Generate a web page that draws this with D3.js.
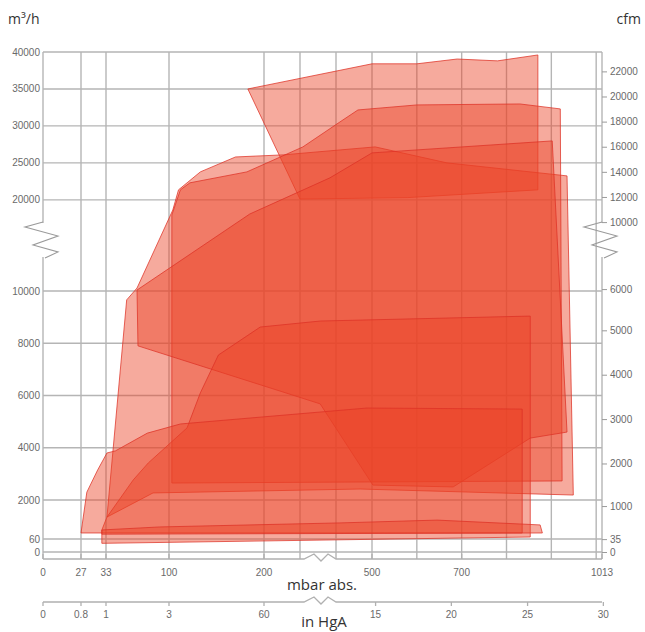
<!DOCTYPE html>
<html><head><meta charset="utf-8">
<script src="https://cdn.jsdelivr.net/npm/d3@7"></script>
<style>
html,body{margin:0;padding:0;background:#fff;}
svg{display:block;}
</style></head>
<body>
<svg id="chart" width="645" height="632"></svg>
<script>
// Pressure axis: mbar abs. ticks, grid and the matching inHgA labels
const mbarTicks = [0, 27, 33, 100, 200, 500, 700, 1013];
const mbarGrid = [27, 33, 100, 200, 300, 400, 500, 600, 700, 800, 900, 1000];
const hgLabels = ["0", "0.8", "1", "3", "60", "15", "20", "25", "30"];
const hgAtMbar = [0, 27, 33, 100, 200, 508, 677, 847, 1016];

// Flow axes: m³/h on the left, cfm on the right
const flowTicks = [0, 60, 2000, 4000, 6000, 8000, 10000, 20000, 25000, 30000, 35000, 40000];
const cfmTicks = [0, 35, 1000, 2000, 3000, 4000, 5000, 6000, 10000, 12000, 14000, 16000, 18000, 20000, 22000];
const CFM_TO_M3H = 1.699;

// Operating ranges as [pressure mbar, flow m³/h] outlines
const rangeA = [[183,35000],[500,38400],[600,38400],[690,39050],[780,38800],[870,39600],[870,21350],[580,20300],[300,20100]];
const rangeE = [[34,1150],[55,9660],[66,10300],[104,18620],[110,21350],[133,23780],[170,25800],[253,26080],[507,27160],[667,25000],[935,23240],[949,2190],[467,2420],[83,2270]];
const rangeB = [[411,30540],[461,32160],[600,32840],[830,32970],[920,32300],[924,2730],[103,2650],[103,17950],[112,21350],[122,22300],[182,23780],[308,27160]];
const rangeC = [[66,10100],[185,18080],[383,22970],[500,26350],[902,27970],[935,4600],[853,4370],[681,2500],[502,2570],[356,5680],[67,7900]];
const rangeF = [[32,40],[32,510],[34,1150],[62,2770],[78,3420],[119,4760],[133,6100],[152,7550],[196,8620],[356,8850],[853,9040],[853,160]];
const rangeG = [[27,360],[28.4,2300],[31,3150],[34,3800],[43,3880],[77,4560],[112,4910],[486,5520],[835,5480],[835,360]];
const rangeT = [[32,510],[90,660],[411,860],[645,1000],[875,760],[880,360],[32,300]];
const ranges = [rangeA, rangeE, rangeB, rangeC, rangeF, rangeG, rangeT];

(function draw() {
  const svg = d3.select("#chart");

  // Broken (piecewise) scales
  const x = d3.scaleLinear()
    .domain([0, 27, 33, 100, 200, 500, 1013])
    .range([43, 81, 106, 169, 264, 372, 602]);
  const y = d3.scaleLinear()
    .domain([0, 60, 2000, 10000, 17000, 40000])
    .range([552, 539, 500, 291, 222, 52]);

  const xL = x(0), xR = x(1013), yT = y(40000), yB = y(0);
  const axis1Y = yB + 7, axis2Y = yB + 50;
  const gridColor = "#b5b5b5";
  const tickFont = "'Liberation Sans', Arial, sans-serif";
  const tickColor = "#6a6a6a";

  // Grid
  const grid = svg.append("g").attr("stroke", gridColor).attr("stroke-width", 1.4);
  grid.selectAll("line.v").data(mbarGrid).join("line").attr("class", "v")
    .attr("x1", d => x(d)).attr("x2", d => x(d))
    .attr("y1", yT).attr("y2", axis1Y);
  grid.selectAll("line.h").data(flowTicks).join("line").attr("class", "h")
    .attr("x1", xL).attr("x2", xR)
    .attr("y1", d => y(d)).attr("y2", d => y(d));

  // Vertical axis lines with a gap at the break
  const breakTop = y(17000), breakBot = breakTop + 36;
  [xL, xR].forEach(px => {
    svg.append("line").attr("x1", px).attr("x2", px).attr("y1", yT).attr("y2", breakTop + 1)
      .attr("stroke", gridColor).attr("stroke-width", 1.4);
    svg.append("line").attr("x1", px).attr("x2", px).attr("y1", breakBot - 1).attr("y2", axis1Y)
      .attr("stroke", gridColor).attr("stroke-width", 1.4);
  });

  // Break markers on the flow axes
  const zig = (cx, cy) => {
    const pts = [[0,0],[-18,5],[15,14],[-10,23],[15,30],[2,36]];
    return d3.line()(pts.map(p => [cx + p[0], cy + p[1]]));
  };
  [xL, xR].forEach(px => {
    svg.append("path").attr("d", zig(px, breakTop))
      .attr("fill", "none").attr("stroke", "#9a9a9a").attr("stroke-width", 1.1);
  });

  // Operating ranges
  const outline = d3.line().x(d => x(d[0])).y(d => y(d[1]));
  svg.append("g").selectAll("path").data(ranges).join("path")
    .attr("d", d => outline(d) + "Z")
    .attr("fill", "rgb(236,66,38)").attr("fill-opacity", 0.45)
    .attr("stroke", "rgb(222,50,38)").attr("stroke-opacity", 0.75)
    .attr("stroke-width", 1);

  // Left axis labels (m³/h)
  svg.append("g").selectAll("text").data(flowTicks).join("text")
    .attr("x", xL - 3).attr("y", d => y(d)).attr("dy", "0.35em")
    .attr("text-anchor", "end")
    .attr("font-family", tickFont).attr("font-size", 10).attr("fill", tickColor)
    .text(d => d);

  // Right axis (cfm)
  const rAxis = svg.append("g").attr("transform", `translate(${xR},0)`)
    .call(d3.axisRight(y).tickValues(cfmTicks.map(c => c * CFM_TO_M3H))
      .tickFormat((d, i) => cfmTicks[i]).tickSize(5).tickPadding(3));
  rAxis.select(".domain").remove();
  rAxis.selectAll("line").attr("stroke", "#9a9a9a");
  rAxis.selectAll("text").attr("font-family", tickFont).attr("font-size", 10).attr("fill", tickColor);

  // Bottom axes with a break between 300 and 400 mbar
  const bx = (x(300) + x(400)) / 2;
  function bottomAxis(yy) {
    const g = svg.append("g").attr("stroke", "#b0b0b0").attr("fill", "none").attr("stroke-width", 1.3);
    g.append("path").attr("d", d3.line()([
      [xL, yy], [bx - 14, yy], [bx - 4, yy - 5], [bx + 3, yy + 2], [bx + 10, yy - 5], [bx + 18, yy], [xR, yy]
    ]));
    return g;
  }
  const ax1 = bottomAxis(axis1Y);
  ax1.selectAll("line").data(mbarTicks).join("line")
    .attr("x1", d => x(d)).attr("x2", d => x(d)).attr("y1", axis1Y - 5).attr("y2", axis1Y);
  svg.append("g").selectAll("text").data(mbarTicks).join("text")
    .attr("x", d => x(d)).attr("y", axis1Y + 13).attr("dy", "0.35em")
    .attr("text-anchor", "middle")
    .attr("font-family", tickFont).attr("font-size", 10).attr("fill", tickColor)
    .text(d => d);

  const ax2 = bottomAxis(axis2Y);
  ax2.selectAll("line").data(hgAtMbar).join("line")
    .attr("x1", d => x(d)).attr("x2", d => x(d)).attr("y1", axis2Y).attr("y2", axis2Y + 4);
  svg.append("g").selectAll("text").data(hgLabels).join("text")
    .attr("x", (d, i) => x(hgAtMbar[i])).attr("y", axis2Y + 12).attr("dy", "0.35em")
    .attr("text-anchor", "middle")
    .attr("font-family", tickFont).attr("font-size", 10).attr("fill", tickColor)
    .text(d => d);

  // Axis titles
  const titleFont = "'Open Sans', 'Noto Sans', sans-serif";
  svg.append("text").attr("x", 8).attr("y", 24).attr("font-family", titleFont)
    .attr("font-size", 14).attr("fill", "#333").text("m³/h");
  svg.append("text").attr("x", 641).attr("y", 24).attr("text-anchor", "end").attr("font-family", titleFont)
    .attr("font-size", 14).attr("fill", "#333").text("cfm");
  svg.append("text").attr("x", bx + 4).attr("y", 590).attr("text-anchor", "middle").attr("font-family", titleFont)
    .attr("font-size", 15).attr("fill", "#333").text("mbar abs.");
  svg.append("text").attr("x", bx + 6).attr("y", 627).attr("text-anchor", "middle").attr("font-family", titleFont)
    .attr("font-size", 15).attr("fill", "#333").text("in HgA");
})();
</script>
</body></html>
